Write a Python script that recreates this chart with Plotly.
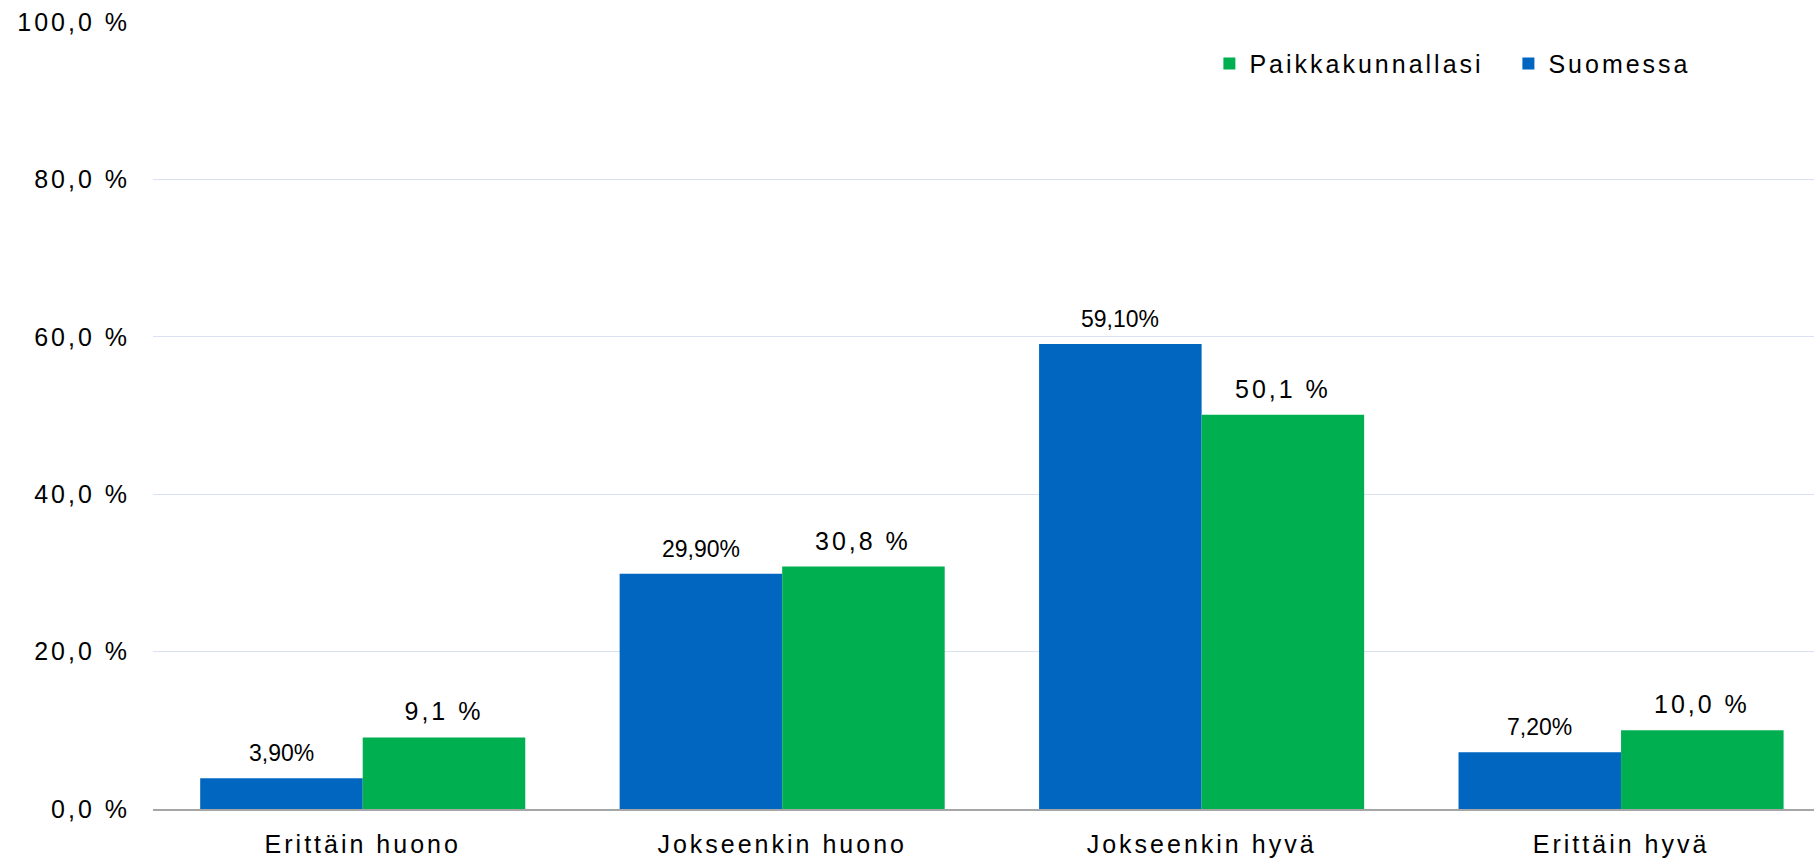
import plotly.graph_objects as go

categories = ["Erittäin huono", "Jokseenkin huono", "Jokseenkin hyvä", "Erittäin hyvä"]
suomessa = [3.9, 29.9, 59.1, 7.2]
paikkakunnallasi = [9.1, 30.8, 50.1, 10.0]
suomessa_labels = ["3,90%", "29,90%", "59,10%", "7,20%"]
paikka_labels = ["9,1 %", "30,8 %", "50,1 %", "10,0 %"]
y_ticks = [0, 20, 40, 60, 80, 100]
y_ticktext = ["0,0 %", "20,0 %", "40,0 %", "60,0 %", "80,0 %", "100,0 %"]

BLUE = "#0066C0"
GREEN = "#00B050"
FONT = "Liberation Sans, Arial, sans-serif"

fig = go.Figure()
fig.add_trace(go.Bar(
    x=categories, y=suomessa, name="Suomessa",
    marker=dict(color=BLUE, line=dict(width=0)),
))
fig.add_trace(go.Bar(
    x=categories, y=paikkakunnallasi, name="Paikkakunnallasi",
    marker=dict(color=GREEN, line=dict(width=0)),
))

# data labels above each bar (bars sit at +/- a quarter of the group width)
bargap = 0.225
half = (1 - bargap) / 4
for i, (v, t) in enumerate(zip(suomessa, suomessa_labels)):
    fig.add_annotation(x=i - half, y=v, text=t, showarrow=False, yanchor="bottom",
                       yshift=10, font=dict(family=FONT, size=23, color="#000000"))
for i, (v, t) in enumerate(zip(paikkakunnallasi, paikka_labels)):
    fig.add_annotation(x=i + half, y=v, text=t, showarrow=False, yanchor="bottom",
                       yshift=10, font=dict(family=FONT, size=25, color="#000000"))

fig.update_layout(
    width=1814, height=858,
    margin=dict(l=153, r=0, t=22, b=46),
    plot_bgcolor="white", paper_bgcolor="white",
    barmode="group", bargap=bargap, bargroupgap=0,
    font=dict(family=FONT, size=25, color="#000000"),
    showlegend=True,
    legend=dict(orientation="h", traceorder="reversed", x=0.636, y=0.947,
                xanchor="left", yanchor="middle", font=dict(size=25),
                entrywidth=254, bgcolor="rgba(0,0,0,0)"),
    xaxis=dict(range=[-0.5, 3.46], showgrid=False, showline=True,
               linecolor="#A6A6A6", linewidth=1.5, ticks="", ticklabelstandoff=12),
    yaxis=dict(range=[0, 100], tickvals=y_ticks, ticktext=y_ticktext,
               showgrid=True, gridcolor="#D9E2F3", gridwidth=1.2, zeroline=False,
               showline=False, ticks="", ticklabelstandoff=22),
)

# the original uses Excel's widened character spacing on the Arial texts
post = """
document.body.style.margin = '0';
var gd = document.getElementById('{plot_id}');
gd.querySelectorAll('.xtick text, .ytick text, .legendtext').forEach(function (t) {
    t.style.letterSpacing = '3px';
});
gd.querySelectorAll('.annotation-text').forEach(function (t) {
    if (t.textContent.indexOf(' %') >= 0) { t.style.letterSpacing = '3px'; }
});
"""

fig.write_html("out.html", post_script=post, config={"displayModeBar": False})
